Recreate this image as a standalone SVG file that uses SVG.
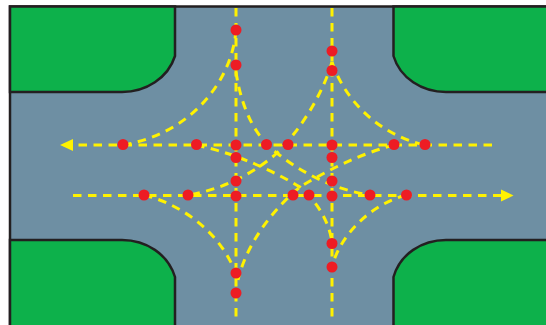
<svg xmlns="http://www.w3.org/2000/svg" width="546" height="325" viewBox="0 0 546 325">
<style>
.kerb{fill:#0db14b;stroke:#231f20;stroke-width:2.5}
.lane{fill:none;stroke:#fff200;stroke-width:3;stroke-dasharray:8.5 6.5}
.pt{fill:#ed1c24}
.head{fill:#fff200}
</style>
<rect width="546" height="325" fill="#fff"/>
<g id="road"><rect x="10" y="6.500" width="540" height="325" fill="#6e8fa3" stroke="#231f20" stroke-width="2.500"/></g>
<g id="kerb-nw"><path class="kerb" d="M10 6.500H175V56C168 78 146 92 122 92H10Z"/></g>
<g id="kerb-ne"><path class="kerb" d="M550 6.500H393.500V56C400 78 422 92 446 92H550Z"/></g>
<g id="kerb-sw"><path class="kerb" d="M10 330V240H122C146 240 168 254 175 277V330Z"/></g>
<g id="kerb-se"><path class="kerb" d="M550 240H446C422 240 400 254 393.500 277V330H550Z"/></g>
<g id="connectors">
<path class="lane" d="M236 8V320"/>
<path class="lane" d="M332 8V320"/>
<path class="lane" d="M492 145H72"/>
<path class="lane" d="M73 195.500H502"/>
<path class="lane" d="M236 30C232 82 190 134 123 145"/>
<path class="lane" d="M236 72C242 112 258 140 277 153C300 172 335 190 370 195"/>
<path class="lane" d="M332 62C322 96 300 130 277 153C256 172 222 190 188 195"/>
<path class="lane" d="M332 62C344 98 376 134 425 145"/>
<path class="lane" d="M196 145C238 154 275 172 300 187C318 202 330 224 332 243"/>
<path class="lane" d="M394 145C360 154 328 170 300 187C270 212 246 246 238 280"/>
<path class="lane" d="M144 195C190 207 226 240 238 280"/>
<path class="lane" d="M406 195C370 205 340 235 332 267"/>
<path class="head" d="M60 145L73 139V151Z"/>
<path class="head" d="M513.500 195.500L501 189.500V201.500Z"/>
</g>
<g id="conflict-points">
<circle class="pt" cx="236" cy="30" r="5.500"/>
<circle class="pt" cx="236" cy="65" r="5.500"/>
<circle class="pt" cx="123" cy="144.500" r="5.500"/>
<circle class="pt" cx="196.500" cy="144.500" r="5.500"/>
<circle class="pt" cx="236" cy="145" r="5.500"/>
<circle class="pt" cx="236" cy="157.500" r="5.500"/>
<circle class="pt" cx="266.500" cy="144.500" r="5.500"/>
<circle class="pt" cx="288" cy="144.500" r="5.500"/>
<circle class="pt" cx="332" cy="145" r="5.500"/>
<circle class="pt" cx="332" cy="157.500" r="5.500"/>
<circle class="pt" cx="394" cy="144.500" r="5.500"/>
<circle class="pt" cx="425" cy="144.500" r="5.500"/>
<circle class="pt" cx="332" cy="51" r="5.500"/>
<circle class="pt" cx="332" cy="70.500" r="5.500"/>
<circle class="pt" cx="236" cy="181" r="5.500"/>
<circle class="pt" cx="236" cy="196" r="5.500"/>
<circle class="pt" cx="144" cy="195" r="5.500"/>
<circle class="pt" cx="188" cy="195" r="5.500"/>
<circle class="pt" cx="293" cy="195" r="5.500"/>
<circle class="pt" cx="309" cy="195" r="5.500"/>
<circle class="pt" cx="332" cy="196" r="5.500"/>
<circle class="pt" cx="332" cy="181" r="5.500"/>
<circle class="pt" cx="370" cy="195" r="5.500"/>
<circle class="pt" cx="406.500" cy="195" r="5.500"/>
<circle class="pt" cx="332" cy="243.500" r="5.500"/>
<circle class="pt" cx="332" cy="267" r="5.500"/>
<circle class="pt" cx="236" cy="273" r="5.500"/>
<circle class="pt" cx="236" cy="293" r="5.500"/>
</g>
</svg>
